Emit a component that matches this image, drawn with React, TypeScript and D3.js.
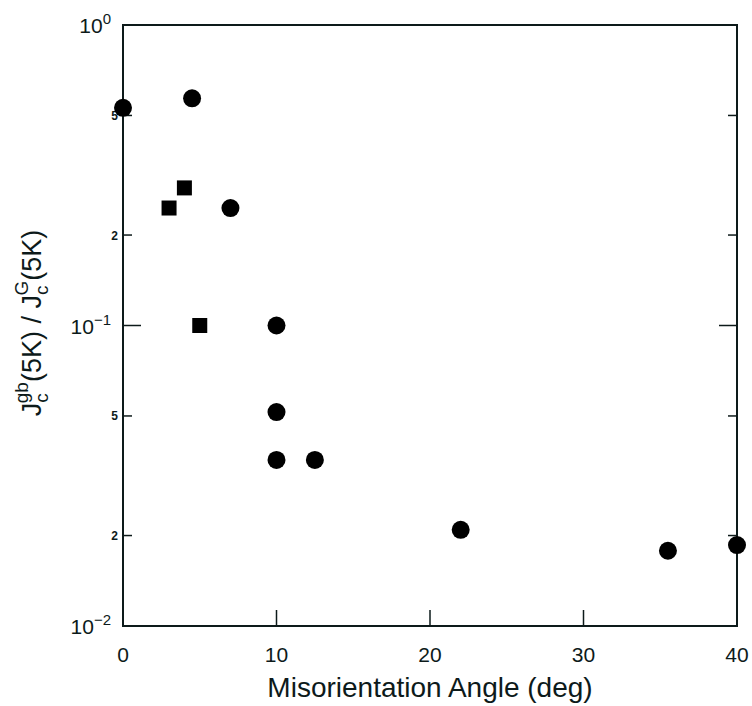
import React from "react";
import * as d3 from "d3";

const circleX = [0, 4.5, 7, 10, 10, 10, 12.5, 22, 35.5, 40];
const circleY = [0.53, 0.57, 0.246, 0.1, 0.0515, 0.0357, 0.0357, 0.0209, 0.0178, 0.0186];
const squareX = [3, 4, 5];
const squareY = [0.246, 0.287, 0.1];
const xTicks = [0, 10, 20, 30, 40];
const yMajor = [1, 0.1, 0.01];
const yMajorExp = ["0", "\u22121", "\u22122"];
const yMinor = [0.5, 0.2, 0.05, 0.02];
const yMinorLabels = ["5", "2", "5", "2"];

const W = 752;
const H = 706;
const L = 123, R = 737, T = 25, B = 626;
const ink = "#0d1a1a";
const font = "'Liberation Sans', Arial, sans-serif";

export default function App() {
  const x = d3.scaleLinear().domain([0, 40]).range([L, R]);
  const y = d3.scaleLog().domain([0.01, 1]).range([B, T]);
  const sq = 15;
  const cr = 9;
  return (
    <svg width={W} height={H} style={{ position: "absolute", left: 0, top: 0, background: "#fff" }} fontFamily={font}>
      <rect x={0} y={0} width={W} height={H} fill="#fff" />
      <rect x={L} y={T} width={R - L} height={B - T} fill="none" stroke={ink} strokeWidth={2} />
      {xTicks.filter((t) => t > 0 && t < 40).map((t) => (
        <line key={"xt" + t} x1={x(t)} x2={x(t)} y1={B} y2={B - 16} stroke={ink} strokeWidth={1.5} />
      ))}
      {xTicks.map((t) => (
        <text key={"xl" + t} x={x(t)} y={662} textAnchor="middle" fontSize={21} fill={ink}>{t}</text>
      ))}
      {yMajor.filter((v) => v < 1 && v > 0.01).map((v) => (
        <g key={"ym" + v}>
          <line x1={L} x2={L + 18} y1={y(v)} y2={y(v)} stroke={ink} strokeWidth={1.5} />
          <line x1={R} x2={R - 18} y1={y(v)} y2={y(v)} stroke={ink} strokeWidth={1.5} />
        </g>
      ))}
      {yMinor.map((v) => (
        <g key={"yn" + v}>
          <line x1={L} x2={L + 9} y1={y(v)} y2={y(v)} stroke={ink} strokeWidth={1.5} />
          <line x1={R} x2={R - 9} y1={y(v)} y2={y(v)} stroke={ink} strokeWidth={1.5} />
        </g>
      ))}
      {yMinor.map((v, i) => (
        <text key={"ynl" + v} x={118} y={y(v) + 4.5} textAnchor="end" fontSize={12} fontWeight="bold" fill={ink}>{yMinorLabels[i]}</text>
      ))}
      {yMajor.map((v, i) => (
        <text key={"yml" + v} x={111} y={y(v) + 8} textAnchor="end" fontSize={21} fill={ink}>
          10<tspan dy={-9} fontSize={15}>{yMajorExp[i]}</tspan>
        </text>
      ))}
      <text x={(L + R) / 2} y={697} textAnchor="middle" fontSize={28} fill={ink}>Misorientation Angle (deg)</text>
      <text transform={`translate(41, 323) rotate(-90)`} textAnchor="middle" fontSize={27} fill={ink}>
        J<tspan dy={7} fontSize={19}>c</tspan><tspan dx={-10} dy={-20} fontSize={19}>gb</tspan><tspan dy={13}>(5K) / J</tspan><tspan dy={7} fontSize={19}>c</tspan><tspan dx={-10} dy={-20} fontSize={19}>G</tspan><tspan dy={13}>(5K)</tspan>
      </text>
      {squareX.map((v, i) => (
        <rect key={"s" + i} x={x(v) - sq / 2} y={y(squareY[i]) - sq / 2} width={sq} height={sq} fill="#000" />
      ))}
      {circleX.map((v, i) => (
        <circle key={"c" + i} cx={x(v)} cy={y(circleY[i])} r={cr} fill="#000" />
      ))}
    </svg>
  );
}
